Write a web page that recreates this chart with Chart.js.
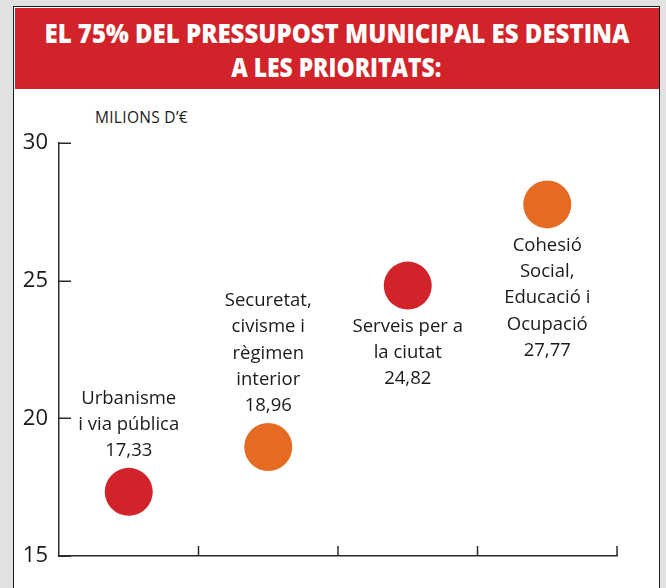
<!DOCTYPE html>
<html>
<head>
<meta charset="utf-8">
<script src="https://cdn.jsdelivr.net/npm/chart.js@4/dist/chart.umd.min.js"></script>
<style>
  html, body { margin: 0; padding: 0; }
  body { width: 666px; height: 588px; overflow: hidden; background: #e0e1e2; position: relative; font-family: "Open Sans", sans-serif; }
  #panel { position: absolute; left: 13px; top: 6px; width: 647px; height: 620px; background: #ffffff; border: 1.5px solid #1e1e1e; box-sizing: border-box; }
  #header { position: absolute; left: 14.5px; top: 7.5px; width: 644px; height: 81.5px; background: #d2232a; overflow: hidden; }
  .tline { position: absolute; left: 0; width: 100%; display: flex; justify-content: center; color: #ffffff; font-weight: 800; font-size: 27px; line-height: 30px; white-space: nowrap; }
  .tline span { display: inline-block; flex: none; transform-origin: 50% 50%; }
  #unit { position: absolute; left: 95px; top: 106px; font-size: 15.5px; letter-spacing: 0.3px; color: #1a1a1a; white-space: nowrap; }
  #c { position: absolute; left: 0; top: 0; }
</style>
</head>
<body>
<div id="panel"></div>
<div id="header">
  <div class="tline" style="top:10px"><span id="t1">EL 75% DEL PRESSUPOST MUNICIPAL ES DESTINA</span></div>
  <div class="tline" style="top:44px"><span id="t2">A LES PRIORITATS:</span></div>
</div>
<div id="unit">MILIONS D’€</div>
<canvas id="c" width="666" height="588"></canvas>
<script>
// ---- data ----
const categories = ['Urbanisme i via pública', 'Securetat, civisme i règimen interior', 'Serveis per a la ciutat', 'Cohesió Social, Educació i Ocupació'];
const labelLines = [
  ['Urbanisme', 'i via pública'],
  ['Securetat,', 'civisme i', 'règimen', 'interior'],
  ['Serveis per a', 'la ciutat'],
  ['Cohesió', 'Social,', 'Educació i', 'Ocupació']
];
const values = [17.33, 18.96, 24.82, 27.77];
const valueLabels = ['17,33', '18,96', '24,82', '27,77'];
const labelSide = ['above', 'above', 'below', 'below'];
const yTicks = [15, 20, 25, 30];

const RED = '#d2232a', ORANGE = '#e56b22';
const pointColors = [RED, ORANGE, RED, ORANGE];
const AXIS = '#2b2b2b';
const TEXT = '#1a1a1a';
const LABEL_FONT = '18.5px "Open Sans"';

// fit title widths like the reference
function fit(id, w) {
  const el = document.getElementById(id);
  const r = el.getBoundingClientRect().width;
  el.style.transform = 'scaleX(' + (w / r) + ')';
}
fit('t1', 585);
fit('t2', 210);

const tickMarks = {
  id: 'tickMarks',
  afterDraw(chart) {
    const {ctx, scales: {x, y}, chartArea} = chart;
    ctx.save();
    ctx.strokeStyle = AXIS;
    ctx.lineWidth = 1.5;
    yTicks.forEach(v => {
      const py = Math.round(y.getPixelForValue(v)) + 0.25;
      ctx.beginPath();
      ctx.moveTo(chartArea.left, py);
      ctx.lineTo(chartArea.left + 12, py);
      ctx.stroke();
    });
    const n = categories.length;
    for (let i = 1; i <= n; i++) {
      const px = i < n ? (x.getPixelForValue(i - 1) + x.getPixelForValue(i)) / 2 : chartArea.right;
      ctx.beginPath();
      ctx.moveTo(px, chartArea.bottom);
      ctx.lineTo(px, chartArea.bottom - 10);
      ctx.stroke();
    }
    ctx.restore();
  }
};

const pointLabels = {
  id: 'pointLabels',
  afterDatasetsDraw(chart) {
    const {ctx} = chart;
    const meta = chart.getDatasetMeta(0);
    const lh = 26.3, gap = 41;
    ctx.save();
    ctx.font = LABEL_FONT;
    ctx.fillStyle = TEXT;
    ctx.textAlign = 'center';
    ctx.textBaseline = 'middle';
    meta.data.forEach((pt, i) => {
      const lines = labelLines[i].concat([valueLabels[i]]);
      const n = lines.length;
      lines.forEach((t, k) => {
        let yy;
        if (labelSide[i] === 'above') yy = pt.y - gap - (n - 1 - k) * lh;
        else yy = pt.y + gap + k * lh;
        ctx.fillText(t, pt.x, yy);
      });
    });
    ctx.restore();
  }
};

new Chart(document.getElementById('c'), {
  type: 'line',
  data: {
    labels: categories,
    datasets: [{
      data: values,
      showLine: false,
      pointRadius: 24,
      pointHoverRadius: 24,
      pointBorderWidth: 0,
      pointBackgroundColor: pointColors,
      pointBorderColor: pointColors
    }]
  },
  options: {
    responsive: false,
    animation: false,
    events: [],
    layout: { padding: { top: 143, right: 49, left: 0, bottom: 0 } },
    plugins: { legend: { display: false }, tooltip: { enabled: false }, title: { display: false } },
    scales: {
      x: {
        type: 'category',
        offset: true,
        grid: { display: false },
        ticks: { display: false },
        border: { display: true, color: AXIS, width: 1.5 },
        afterFit(s) { s.height = 32; }
      },
      y: {
        min: 15,
        max: 30,
        afterBuildTicks(s) { s.ticks = yTicks.map(v => ({ value: v })); },
        ticks: { color: TEXT, font: { family: 'Open Sans', size: 22 }, padding: 3 },
        grid: { display: false },
        border: { display: true, color: AXIS, width: 1.5 },
        afterFit(s) { s.width = 59; }
      }
    }
  },
  plugins: [tickMarks, pointLabels]
});
</script>
</body>
</html>
